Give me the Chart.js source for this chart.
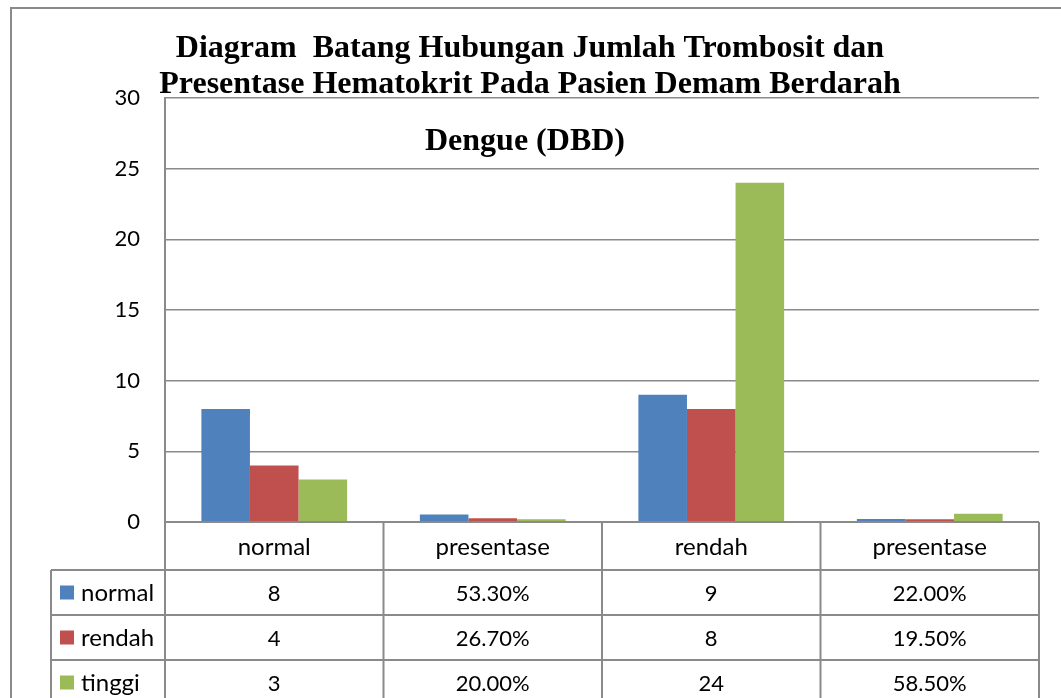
<!DOCTYPE html>
<html>
<head>
<meta charset="utf-8">
<script src="https://cdn.jsdelivr.net/npm/chart.js@4.4.1/dist/chart.umd.min.js"></script>
<style>
  html, body { margin: 0; padding: 0; background: #ffffff; }
  #wrap { width: 1061px; height: 698px; position: relative; }
</style>
</head>
<body>
<div id="wrap"><canvas id="c" width="1061" height="698"></canvas></div>
<script>
const titleLines = ['Diagram  Batang Hubungan Jumlah Trombosit dan', 'Presentase Hematokrit Pada Pasien Demam Berdarah', 'Dengue (DBD)'];
const categories = ['normal', 'presentase', 'rendah', 'presentase'];
const seriesNames = ['normal', 'rendah', 'tinggi'];
const normalValues = [8, 0.533, 9, 0.22];
const rendahValues = [4, 0.267, 8, 0.195];
const tinggiValues = [3, 0.2, 24, 0.585];
const isPercentColumn = [false, true, false, true];
const yTicks = [0, 5, 10, 15, 20, 25, 30];

const colors = ['#4F81BD', '#C0504D', '#9BBB59'];
const seriesValues = [normalValues, rendahValues, tinggiValues];
const lineColor = '#8a8a8a';
const wordFont = '24px Lato';
const numFont = '22px Lato';

function fmt(v, pct) {
  return pct ? (v * 100).toFixed(2) + '%' : String(v);
}

const overlay = {
  id: 'overlay',
  afterDraw(chart) {
    const ctx = chart.ctx;
    const ca = chart.chartArea;
    const xs = chart.scales.x;
    ctx.save();
    // outer border
    ctx.strokeStyle = lineColor;
    ctx.lineWidth = 2;
    ctx.beginPath();
    ctx.moveTo(11, 720); ctx.lineTo(11, 8); ctx.lineTo(1080, 8);
    ctx.stroke();

    // title
    ctx.fillStyle = '#000';
    ctx.font = 'bold 32px "Liberation Serif"';
    ctx.textAlign = 'center';
    ctx.textBaseline = 'alphabetic';
    ctx.fillText(titleLines[0], 530, 57);
    ctx.fillText(titleLines[1], 530, 93);
    ctx.fillText(titleLines[2], 525, 150);

    // data table
    const n = categories.length;
    const colW = (ca.right - ca.left) / n;
    const edges = [];
    for (let i = 0; i <= n; i++) edges.push(ca.left + colW * i);
    const rowH = 45;
    const catTop = ca.bottom;
    const catBot = catTop + 48;
    const legLeft = 51;
    ctx.strokeStyle = lineColor;
    ctx.lineWidth = 2;
    ctx.beginPath();
    ctx.moveTo(ca.left, catTop); ctx.lineTo(ca.right, catTop);
    for (let r = 0; r <= seriesNames.length; r++) {
      const y = catBot + r * rowH;
      ctx.moveTo(legLeft, y); ctx.lineTo(ca.right, y);
    }
    const bottom = catBot + seriesNames.length * rowH;
    edges.forEach(x => { ctx.moveTo(x, catTop); ctx.lineTo(x, bottom); });
    ctx.moveTo(legLeft, catBot); ctx.lineTo(legLeft, bottom);
    ctx.stroke();

    ctx.fillStyle = '#000';
    ctx.textBaseline = 'middle';
    ctx.textAlign = 'center';
    ctx.font = wordFont;
    categories.forEach((c, i) => {
      ctx.fillText(c, xs.getPixelForValue(i), (catTop + catBot) / 2 + 1);
    });
    seriesNames.forEach((s, r) => {
      const yc = catBot + r * rowH + rowH / 2;
      ctx.fillStyle = colors[r];
      ctx.fillRect(60, yc - 7, 14, 14);
      ctx.fillStyle = '#000';
      ctx.textAlign = 'left';
      ctx.font = wordFont;
      ctx.fillText(s, 81, yc + 1);
      ctx.textAlign = 'center';
      ctx.font = numFont;
      seriesValues[r].forEach((v, i) => {
        ctx.fillText(fmt(v, isPercentColumn[i]), xs.getPixelForValue(i), yc + 1);
      });
    });
    ctx.restore();
  }
};

new Chart(document.getElementById('c'), {
  type: 'bar',
  data: {
    labels: categories,
    datasets: seriesNames.map((name, i) => ({
      label: name,
      data: seriesValues[i],
      backgroundColor: colors[i],
      borderWidth: 0,
      categoryPercentage: 0.667,
      barPercentage: 1.0
    }))
  },
  options: {
    responsive: false,
    animation: false,
    devicePixelRatio: 1,
    layout: { padding: { left: 105, top: 98, right: 22, bottom: 176 } },
    plugins: { legend: { display: false }, title: { display: false }, tooltip: { enabled: false } },
    scales: {
      x: { display: false, grid: { display: false } },
      y: {
        min: 0, max: 30,
        afterBuildTicks: (s) => { s.ticks = yTicks.map(v => ({ value: v })); },
        afterFit: (s) => { s.width = 60; },
        grid: { color: lineColor, lineWidth: 1.5, drawTicks: false },
        border: { display: true, color: lineColor, width: 2 },
        ticks: { padding: 25, color: '#000', font: { family: 'Lato', size: 22 } }
      }
    }
  },
  plugins: [overlay]
});
</script>
</body>
</html>
